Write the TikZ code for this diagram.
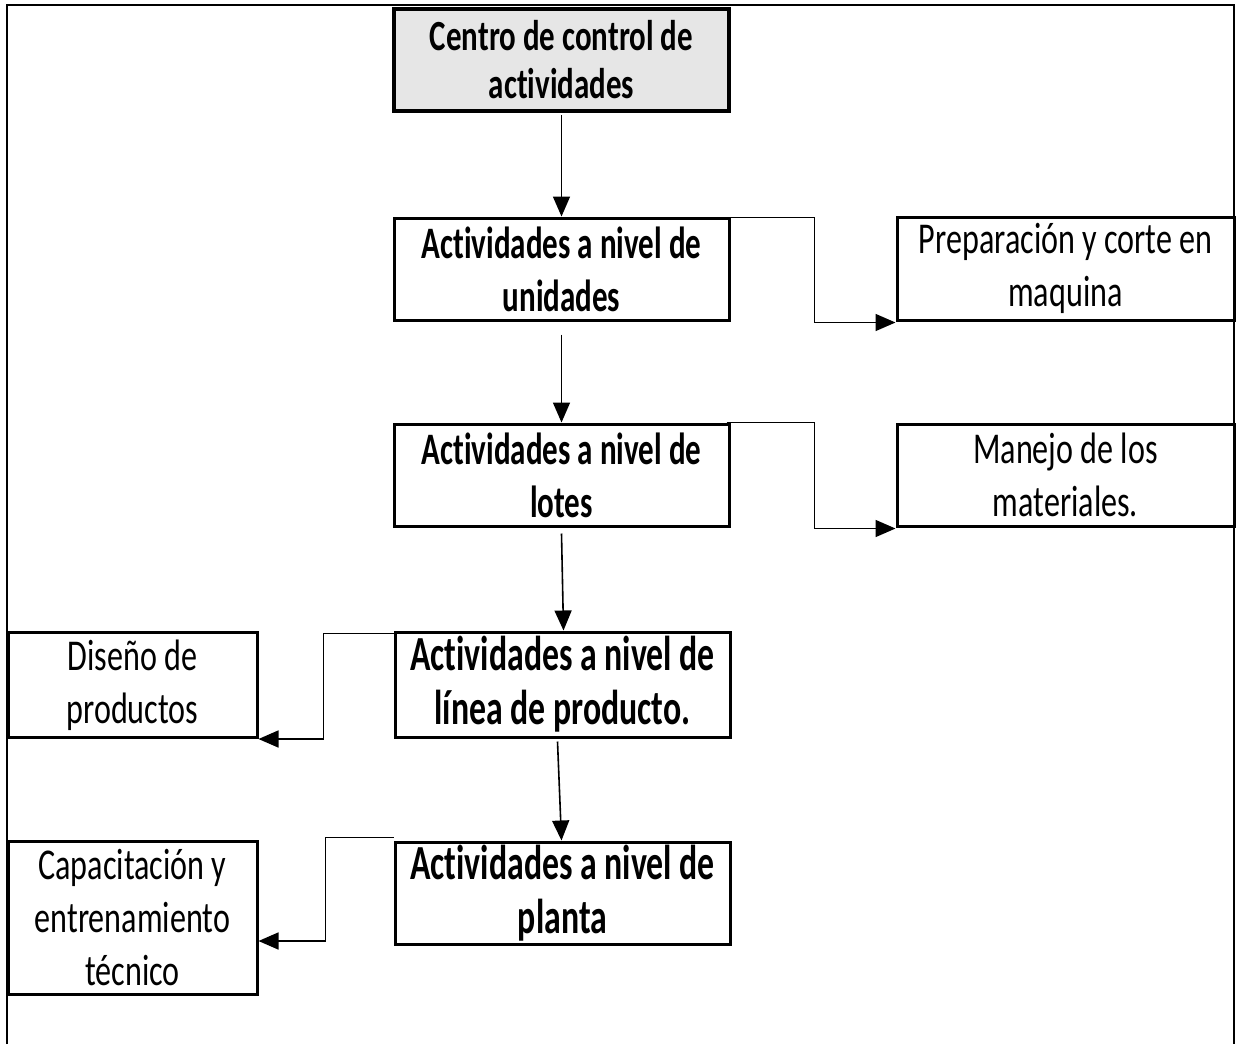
\documentclass[tikz,border=0pt]{standalone}
\usepackage{fontspec}
\setmainfont{Carlito}
\newfontfamily\regf[FakeStretch=0.73,Ligatures=NoCommon]{Carlito}
\newfontfamily\boldf[FakeStretch=0.69,Ligatures=NoCommon]{Carlito}
\newfontfamily\topf[FakeStretch=0.72,Ligatures=NoCommon]{Carlito}
\usetikzlibrary{arrows.meta,calc}
\definecolor{boxgray}{HTML}{E6E6E6}
\tikzset{
  box/.style={draw=black, line width=3pt, fill=white, align=center, inner sep=0pt},
  mainbox/.style={box, font=\boldf\bfseries\fontsize{45}{53}\selectfont},
  bigbox/.style={box, font=\boldf\bfseries\fontsize{49}{54}\selectfont},
  sidebox/.style={box, font=\regf\fontsize{44}{53}\selectfont},
  topbox/.style={box, fill=boxgray, line width=4.5pt, font=\topf\bfseries\fontsize{43}{48}\selectfont},
  conn/.style={draw=black, line width=1.6pt, -{Triangle[length=20pt,width=17pt]}},
  frame/.style={draw=black, line width=2pt}
}
\begin{document}
\begin{tikzpicture}[x=1pt,y=-1pt]
\useasboundingbox (0,0) rectangle (1236,1044);
\fill[white] (0,0) rectangle (1236,1044);
\draw[frame] (7,1044) -- (7,5) -- (1234,5) -- (1234,1044);

\node[topbox, minimum width=335pt, minimum height=102pt] (top) at (561.5,60) {Centro de control de\\actividades};
\node[mainbox, minimum width=335pt, minimum height=102pt] (b2) at (561.5,269) {Actividades a nivel de\\unidades};
\node[sidebox, minimum width=337pt, minimum height=103pt] (prep) at (1065.5,268.5) {Preparación y corte en\\maquina};
\node[mainbox, minimum width=335pt, minimum height=102pt] (b3) at (561.5,475) {Actividades a nivel de\\lotes};
\node[sidebox, minimum width=337pt, minimum height=102pt] (man) at (1065.5,475) {Manejo de los\\materiales.};
\node[bigbox, minimum width=335pt, minimum height=105pt] (b4) at (562.5,684.5) {Actividades a nivel de\\línea de producto.};
\node[sidebox, minimum width=249pt, minimum height=105pt] (dis) at (132.5,685) {Diseño de\\productos};
\node[bigbox, minimum width=335pt, minimum height=102pt] (b5) at (562.5,893) {Actividades a nivel de\\planta};
\node[sidebox, minimum width=249pt, minimum height=153pt] (cap) at (132.5,917.5) {Capacitación y\\entrenamiento\\técnico};

\draw[conn] ([yshift=-2pt]top.south) -- (b2.north);
\draw[conn] ([yshift=-13pt]b2.south) -- (b3.north);
\draw[conn] ([yshift=-6pt]b3.south) -- ([xshift=1pt]b4.north);
\draw[conn] ([xshift=-5pt,yshift=-3pt]b4.south) -- ([xshift=-1pt]b5.north);

\draw[conn] ([yshift=-1pt]b2.north east) -- ++(84,0) |- ([yshift=-1pt]prep.south west);
\draw[conn] ([xshift=-4pt]b3.north east) -- ++(88,0) |- ([yshift=-1pt]man.south west);
\draw[conn] ([yshift=-3pt]b4.north west) -- ++(-70,0) |- (dis.south east);
\draw[conn] ([yshift=3pt]b5.north west) -- ++(-68,0) |- ([yshift=-23.5pt]cap.east);
\end{tikzpicture}
\end{document}
